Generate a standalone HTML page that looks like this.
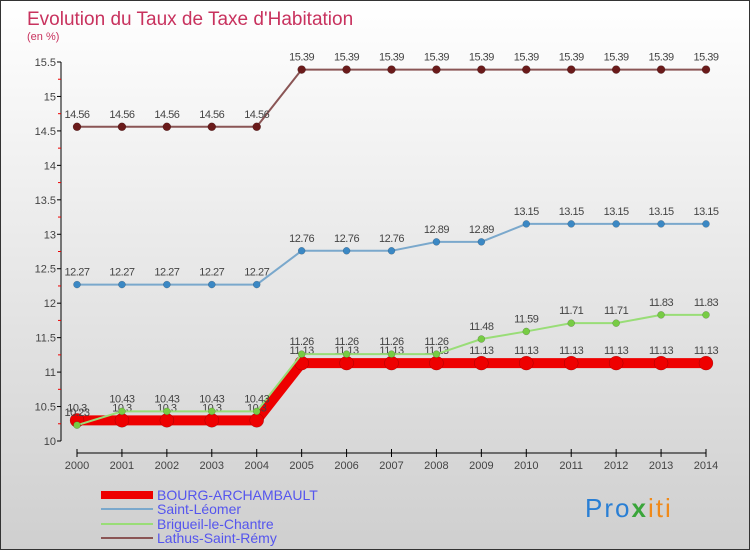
<!DOCTYPE html>
<html><head><meta charset="utf-8"><style>
body{margin:0;width:750px;height:550px;overflow:hidden}
#wrap{position:relative;width:748px;height:548px;border:1px solid #333;background:linear-gradient(#ffffff,#cfcfcf)}
svg{position:absolute;left:0;top:0}
text{font-family:"Liberation Sans",sans-serif}
</style></head><body>
<div id="wrap">
<svg id="c" width="750" height="550">
<text x="26" y="24" font-size="19" fill="#c8325e">Evolution du Taux de Taxe d'Habitation</text>
<text x="26" y="39" font-size="11" fill="#c8325e">(en %)</text>
<g>
<rect x="100" y="490" width="52" height="8" fill="#e00"/>
<text x="156" y="499" font-size="14" fill="#5555ee">BOURG-ARCHAMBAULT</text>
<line x1="100" y1="508" x2="152" y2="508" stroke="#7aa8cc" stroke-width="2"/>
<text x="156" y="513" font-size="14" fill="#5555ee">Saint-Léomer</text>
<line x1="100" y1="523" x2="152" y2="523" stroke="#99dd77" stroke-width="2"/>
<text x="156" y="528" font-size="14" fill="#5555ee">Brigueil-le-Chantre</text>
<line x1="100" y1="537" x2="152" y2="537" stroke="#8a5555" stroke-width="2"/>
<text x="156" y="542" font-size="14" fill="#5555ee">Lathus-Saint-Rémy</text>
</g>
<text x="584" y="516" font-size="26" letter-spacing="2"><tspan fill="#2a7fd4">Pro</tspan><tspan fill="#3aa53a" font-weight="bold">x</tspan><tspan fill="#f08a1a">iti</tspan></text>
</svg>
</div>
<script>
const years=[2000,2001,2002,2003,2004,2005,2006,2007,2008,2009,2010,2011,2012,2013,2014];
const bourg=[10.3,10.3,10.3,10.3,10.3,11.13,11.13,11.13,11.13,11.13,11.13,11.13,11.13,11.13,11.13];
const leomer=[12.27,12.27,12.27,12.27,12.27,12.76,12.76,12.76,12.89,12.89,13.15,13.15,13.15,13.15,13.15];
const brigueil=[10.23,10.43,10.43,10.43,10.43,11.26,11.26,11.26,11.26,11.48,11.59,11.71,11.71,11.83,11.83];
const lathus=[14.56,14.56,14.56,14.56,14.56,15.39,15.39,15.39,15.39,15.39,15.39,15.39,15.39,15.39,15.39];
const yTicks=[10,10.5,11,11.5,12,12.5,13,13.5,14,14.5,15,15.5];
const svg=document.getElementById('c');const NS='http://www.w3.org/2000/svg';
const X=i=>76+i*(705-76)/14;
const Y=v=>440-(v-10)*(440-61)/5.5;
function mk(t,a,p){const e=document.createElementNS(NS,t);for(const k in a)e.setAttribute(k,a[k]);(p||svg).appendChild(e);return e;}
const ax=mk('g',{});


const ya=mk('line',{x1:60,y1:61,x2:60,y2:440,stroke:'#000'},ax);


yTicks.forEach((v,i)=>{
 mk('line',{x1:56,y1:Y(v),x2:60,y2:Y(v),stroke:'#000'},ax);
 if(i<yTicks.length-1)mk('line',{x1:57,y1:Y(v+0.25),x2:60,y2:Y(v+0.25),stroke:'#e00'},ax);
 const t=mk('text',{x:55,y:Y(v)+4,'font-size':11,fill:'#444','text-anchor':'end'},ax);t.textContent=String(v);
 
 
});
const xa=mk('line',{x1:76,y1:452,x2:705,y2:452,stroke:'#000'},ax);


years.forEach((y,i)=>{
 mk('line',{x1:X(i),y1:448,x2:X(i),y2:456,stroke:'#000'},ax);
 const t=mk('text',{x:X(i),y:468,'font-size':11,fill:'#444','text-anchor':'middle'},ax);t.textContent=y;
 
 
});
function series(d,name,color,dot,w,r,lblOff){
 const g=mk('g',{});
 
 
 mk('polyline',{points:d.map((v,i)=>X(i)+','+Y(v)).join(' '),fill:'none',stroke:color,'stroke-width':w},g);
 d.forEach((v,i)=>{
  const c=mk('circle',{cx:X(i),cy:Y(v),r:r,fill:dot,stroke:'rgba(0,0,0,0.3)','stroke-width':0.5},g);
  
  
  const t=mk('text',{x:X(i),y:Y(v)-lblOff,'font-size':11,fill:'#444','text-anchor':'middle','letter-spacing':'-0.5'},g);t.textContent=String(v);
  
  
 });
}
series(lathus,'lathus','#8a5555','#6a1a1a',2,4,9);
series(leomer,'saint-leomer','#7aa8cc','#3b88c4',2,3.5,9);
series(bourg,'bourg','#ee0000','#ee0000',10,7,9);
series(brigueil,'brigueil','#99dd77','#77cc44',2,3.5,9);
</script>
</body></html>
